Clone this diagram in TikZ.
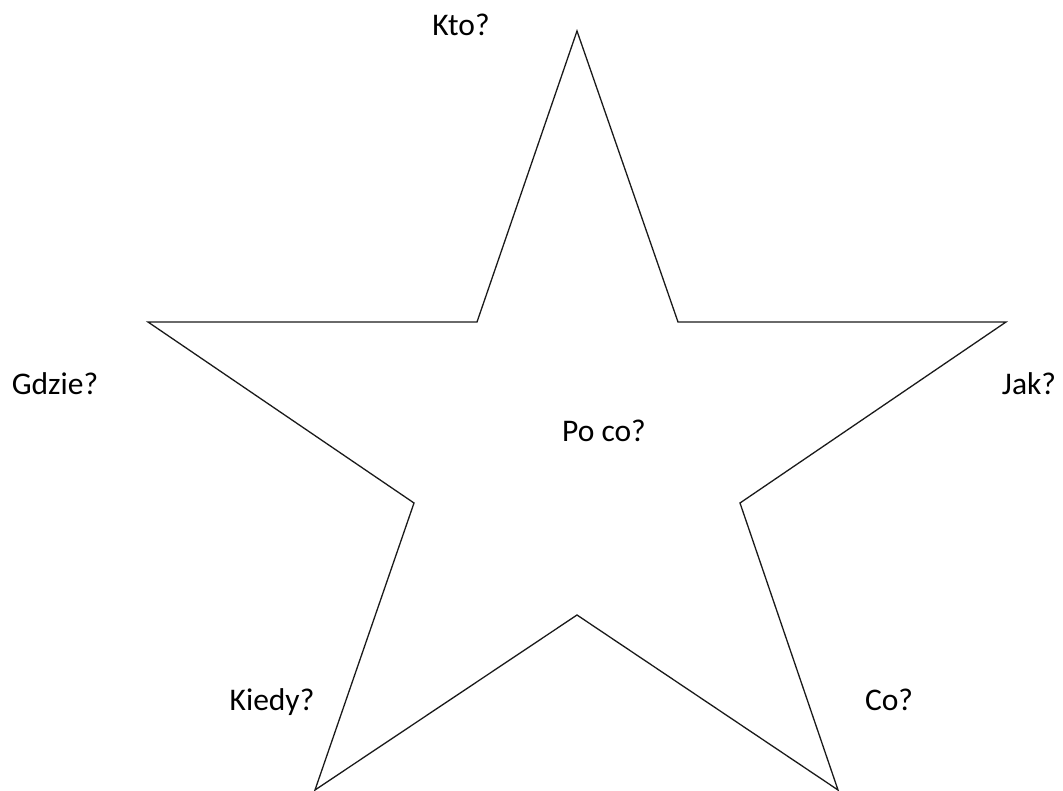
\documentclass[tikz,border=0pt]{standalone}
\usepackage{fontspec}
\setmainfont{Carlito}
\definecolor{inkgray}{HTML}{1A1A1A}
\usepackage{tikz}
\usetikzlibrary{positioning}

\begin{document}
\begin{tikzpicture}[
  x=1pt, y=-1pt,
  question/.style={anchor=base, inner sep=0pt, font=\fontsize{31.5}{36}\selectfont, text=black},
  outline/.style={draw=inkgray, line width=1.3pt, line join=miter}
]
\useasboundingbox (0,0) rectangle (1063,791);
% star outline
\draw[outline] (577,31) -- (678,322) -- (1006,322) -- (740,503) -- (838,790)
  -- (577,615) -- (315,790) -- (414,503) -- (148,322) -- (477,322) -- cycle;
% questions
\node[question] (kto)   at (461,36)  {Kto?};
\node[question] (gdzie) at (55,395)  {Gdzie?};
\node[question] (jak)   at (1029,395) {Jak?};
\node[question] (poco)  at (604,442) {Po co?};
\node[question] (kiedy) at (272,710) {Kiedy?};
\node[question] (co)    at (889,710) {Co?};
\end{tikzpicture}
\end{document}
